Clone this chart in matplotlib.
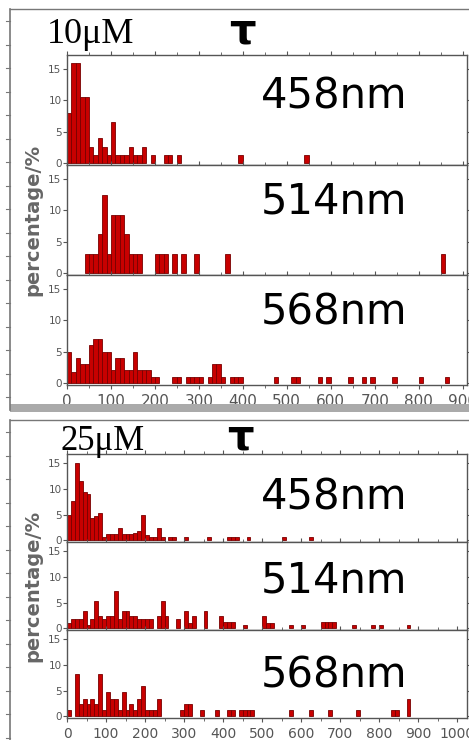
import matplotlib
matplotlib.use("Agg")
import matplotlib.pyplot as plt
from matplotlib.patches import Rectangle
from matplotlib.lines import Line2D
from matplotlib.ticker import MultipleLocator

W, H = 469, 740

# 10 uM: bin start (tau) and percentage, bins 10 wide
bins_10_458 = [0, 10, 20, 30, 40, 50, 60, 70, 80, 90, 100, 110, 120, 130, 140, 150,
               160, 170, 190, 220, 230, 250, 390, 540]
pct_10_458 = [8, 16, 16, 10.5, 10.5, 2.5, 1.2, 4, 2.5, 1.2, 6.5, 1.2, 1.2, 1.2, 2.5, 1.2,
              1.2, 2.5, 1.2, 1.2, 1.2, 1.2, 1.2, 1.2]

bins_10_514 = [40, 50, 60, 70, 80, 90, 100, 110, 120, 130, 140, 150, 160, 200, 210, 220,
               240, 260, 290, 360, 850]
pct_10_514 = [3.1, 3.1, 3.1, 6.2, 12.5, 3.1, 9.3, 9.3, 9.3, 6.2, 3.1, 3.1, 3.1, 3.1, 3.1, 3.1,
              3.1, 3.1, 3.1, 3.1, 3.1]

bins_10_568 = [0, 10, 20, 30, 40, 50, 60, 70, 80, 90, 100, 110, 120, 130, 140, 150, 160,
               170, 180, 190, 200, 240, 250, 270, 280, 290, 300, 320, 330, 340, 350, 370,
               380, 390, 470, 510, 520, 570, 590, 640, 670, 690, 740, 800, 860]
pct_10_568 = [5, 1.8, 4, 3, 3, 6, 7, 7, 5, 5, 2, 4, 4, 2, 2, 5, 2,
              2, 2, 1, 1, 1, 1, 1, 1, 1, 1, 1, 3, 3, 1, 1,
              1, 1, 1, 1, 1, 1, 1, 1, 1, 1, 1, 1, 1]

# 25 uM
bins_25_458 = [0, 10, 20, 30, 40, 50, 60, 70, 80, 90, 100, 110, 120, 130, 140, 150, 160,
               170, 180, 190, 200, 210, 220, 230, 240, 260, 270, 300, 360, 410, 420, 430,
               460, 550, 620]
pct_25_458 = [4.9, 7.7, 15.1, 11.6, 9.5, 9.0, 4.3, 4.7, 5.4, 0.6, 1.2, 1.2, 1.2, 2.5, 1.2, 1.2, 1.2,
              1.5, 1.8, 4.9, 1.0, 0.6, 0.6, 2.5, 0.6, 0.6, 0.6, 0.6, 0.6, 0.6, 0.6, 0.6,
              0.6, 0.6, 0.6]

bins_25_514 = [0, 10, 20, 30, 40, 50, 60, 70, 80, 90, 100, 110, 120, 130, 140, 150, 160,
               170, 180, 190, 200, 210, 230, 240, 250, 280, 300, 310, 320, 350, 390, 400,
               410, 420, 450, 500, 510, 520, 570, 600, 650, 660, 670, 680, 730, 780, 800, 870]
pct_25_514 = [1.0, 1.8, 1.8, 1.8, 3.5, 0.6, 1.8, 5.4, 2.5, 1.8, 2.5, 2.5, 7.3, 1.8, 3.5, 3.5, 2.5,
              2.5, 1.8, 1.8, 1.8, 1.8, 2.5, 5.4, 2.5, 1.8, 3.5, 1.0, 2.5, 3.5, 2.5, 1.2,
              1.2, 1.2, 0.6, 2.5, 1.0, 1.0, 0.6, 0.6, 1.2, 1.2, 1.2, 1.2, 0.6, 0.6, 0.6, 0.6]

bins_25_568 = [0, 20, 30, 40, 50, 60, 70, 80, 90, 100, 110, 120, 130, 140, 150, 160, 170,
               180, 190, 200, 210, 220, 230, 290, 300, 310, 340, 380, 410, 420, 440, 450,
               460, 470, 570, 620, 670, 740, 830, 840, 870]
pct_25_568 = [1.2, 8.3, 2.5, 3.5, 2.5, 3.5, 2.5, 8.3, 1.2, 4.7, 3.5, 3.5, 1.2, 4.7, 1.2, 2.5, 1.2,
              3.5, 6.0, 1.2, 1.2, 1.2, 3.5, 1.2, 2.5, 2.5, 1.2, 1.2, 1.2, 1.2, 1.2, 1.2,
              1.2, 1.2, 1.2, 1.2, 1.2, 1.2, 1.2, 1.2, 3.5]

wavelengths = ["458nm", "514nm", "568nm"]
conc_labels = ["10\u03bcM", "25\u03bcM"]

RED = "#c80000"
EDGE = "#780000"
GREY = "#555555"


def fx(x):
    return x / W


def fy(y):
    return 1 - y / H


fig = plt.figure(figsize=(W / 100, H / 100), dpi=100)


def frame(top, bottom):
    # outer frame with little ticks on the left edge
    fig.add_artist(Line2D([fx(10), fx(10)], [fy(top), fy(bottom)], color="#777777", lw=1.2))
    fig.add_artist(Line2D([fx(10), fx(469)], [fy(top), fy(top)], color="#777777", lw=1.0))
    y = top + 12
    while y < bottom - 5:
        fig.add_artist(Line2D([fx(6), fx(10)], [fy(y), fy(y)], color="#777777", lw=0.8))
        y += 23.5


def panel(series, top, h, ylim, xmax, label_y, label_fs, tick_fs):
    axes = []
    for i, (bins, pct) in enumerate(series):
        ax = fig.add_axes([fx(67), fy(top + (i + 1) * h), (467 - 67) / W, h / H])
        ax.bar(bins, pct, width=10, align="edge", color=RED, edgecolor=EDGE, linewidth=0.6)
        ax.set_xlim(0, xmax)
        ax.set_ylim(*ylim)
        ax.set_yticks([0, 5, 10, 15])
        ax.xaxis.set_major_locator(MultipleLocator(100))
        ax.xaxis.set_minor_locator(MultipleLocator(50))
        for s in ax.spines.values():
            s.set_color(GREY)
            s.set_linewidth(1.0)
        ax.tick_params(axis="y", which="both", direction="out", length=3, width=0.8,
                       colors=GREY, labelsize=7.5, pad=1, right=True)
        ax.tick_params(axis="x", which="major", direction="out", length=3, width=0.8,
                       colors=GREY, top=True, labelbottom=(i == 2))
        ax.tick_params(axis="x", which="minor", direction="out", length=2, width=0.6,
                       colors=GREY, top=True)
        for t in ax.get_xticklabels():
            t.set_fontsize(tick_fs)
            t.set_family(["Liberation Sans Narrow", "DejaVu Sans"])
        ax.text(0.667, label_y[i], wavelengths[i], transform=ax.transAxes, fontsize=label_fs,
                ha="center", va="center", color="black", family="DejaVu Sans")
        axes.append(ax)
    return axes


# ---------- 10 uM ----------
frame(9, 410)
fig.add_artist(Rectangle((fx(10), fy(412)), fx(469) - fx(10), (412 - 404) / H,
                         color="#aaaaaa", lw=0))
fig.text(fx(47), fy(43), conc_labels[0], fontsize=26, family="Liberation Serif",
         ha="left", va="baseline")
fig.text(fx(242), fy(31), "\u03c4", fontsize=30, fontweight="bold", ha="center", va="center")
panel([(bins_10_458, pct_10_458), (bins_10_514, pct_10_514), (bins_10_568, pct_10_568)],
      55, 110, (-0.32, 17.23), 910, [0.62, 0.67, 0.66], 30, 11)
fig.text(fx(33), fy(220), "percentage/%", rotation=90, fontsize=14, fontweight="bold",
         color="#666666", ha="center", va="center")

# ---------- 25 uM ----------
frame(420, 745)
fig.text(fx(60), fy(450), conc_labels[1], fontsize=25, family="Liberation Serif",
         ha="left", va="baseline")
fig.text(fx(240), fy(437), "\u03c4", fontsize=30, fontweight="bold", ha="center", va="center")
panel([(bins_25_458, pct_25_458), (bins_25_514, pct_25_514), (bins_25_568, pct_25_568)],
      454, 88, (-0.3, 16.85), 1025, [0.5, 0.56, 0.48], 30, 10)
fig.text(fx(33), fy(586), "percentage/%", rotation=90, fontsize=14, fontweight="bold",
         color="#666666", ha="center", va="center")

fig.savefig("out.png", dpi=100)
